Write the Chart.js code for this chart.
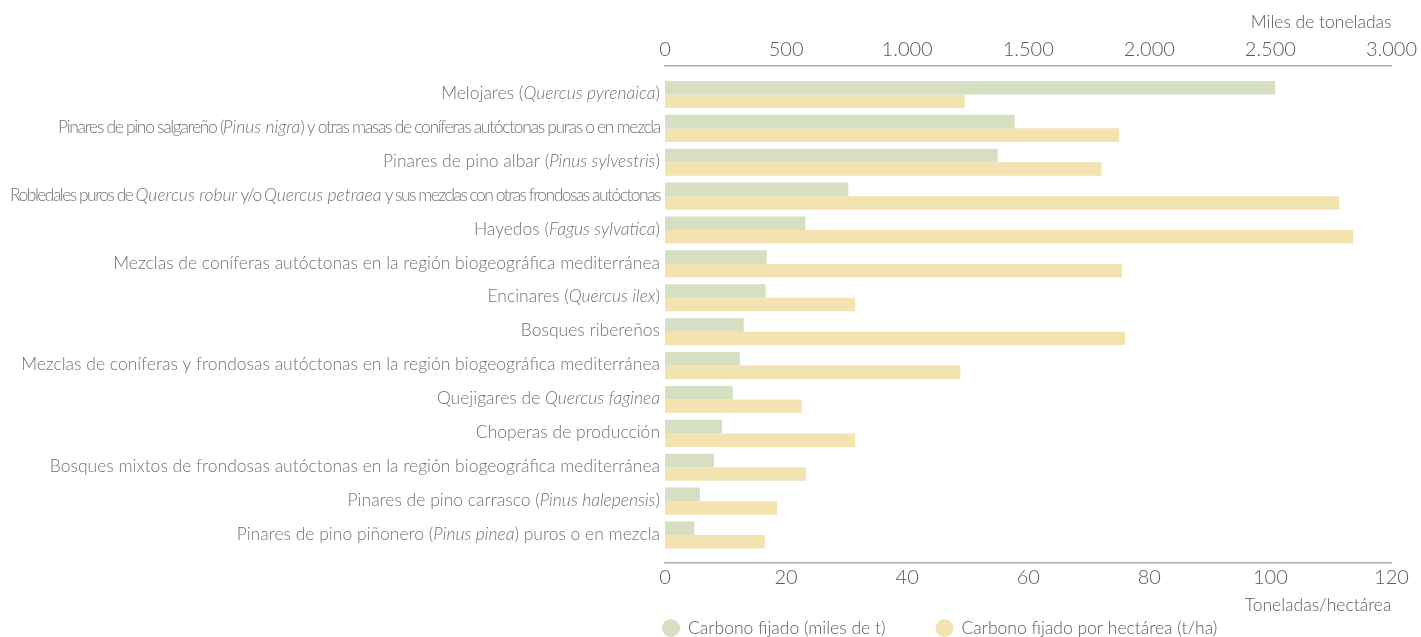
<!DOCTYPE html>
<html lang="es">
<head>
<meta charset="utf-8">
<title>Carbono fijado por tipo de bosque</title>
<script src="https://cdn.jsdelivr.net/npm/chart.js@4"></script>
<style>
  html, body { margin: 0; padding: 0; background: #ffffff; }
  #wrap { width: 1421px; height: 637px; position: relative; }
</style>
</head>
<body>
<div id="wrap"><canvas id="chart" width="1421" height="637"></canvas></div>
<script>
// Forest types; text between asterisks is the scientific name, set in italics.
const categories = [
  'Melojares (*Quercus pyrenaica*)',
  'Pinares de pino salgareño (*Pinus nigra*) y otras masas de coníferas autóctonas puras o en mezcla',
  'Pinares de pino albar (*Pinus sylvestris*)',
  'Robledales puros de *Quercus robur* y/o *Quercus petraea* y sus mezclas con otras frondosas autóctonas',
  'Hayedos (*Fagus sylvatica*)',
  'Mezclas de coníferas autóctonas en la región biogeográfica mediterránea',
  'Encinares (*Quercus ilex*)',
  'Bosques ribereños',
  'Mezclas de coníferas y frondosas autóctonas en la región biogeográfica mediterránea',
  'Quejigares de *Quercus faginea*',
  'Choperas de producción',
  'Bosques mixtos de frondosas autóctonas en la región biogeográfica mediterránea',
  'Pinares de pino carrasco (*Pinus halepensis*)',
  'Pinares de pino piñonero (*Pinus pinea*) puros o en mezcla'
];

// Carbon stored, thousands of tonnes (top axis)
const carbonoMilesT = [2520, 1444, 1374, 757, 580, 420, 416, 325, 309, 280, 235, 202, 144, 121];
// Carbon stored per hectare, t/ha (bottom axis)
const carbonoPorHa = [49.5, 75.0, 72.1, 111.4, 113.7, 75.5, 31.4, 76.0, 48.8, 22.6, 31.4, 23.3, 18.5, 16.5];

const ticksMilesT = [0, 500, 1000, 1500, 2000, 2500, 3000];
const ticksPorHa = [0, 20, 40, 60, 80, 100, 120];

const seriesNames = ['Carbono fijado (miles de t)', 'Carbono fijado por hectárea (t/ha)'];
const axisTitles = ['Miles de toneladas', 'Toneladas/hectárea'];

const COLORS = { green: '#d6dfc1', yellow: '#f3e3b1', text: '#727272', tick: '#5a5a5a', axis: '#ababab' };
const FONT = 'Lato';

// Spanish-style thousands separator: 1.000, 2.500 ...
const fmt = v => String(v).replace(/\B(?=(\d{3})+(?!\d))/g, '.');

// Category names drawn to the left of the plot, with italic scientific names.
// Over-long names are tightened (roman text only) to a given width.
const categoryLabels = {
  id: 'categoryLabels',
  afterDraw(chart, args, opts) {
    const { ctx, chartArea, scales } = chart;
    const yScale = scales.y;
    ctx.save();
    ctx.textBaseline = 'middle';
    ctx.textAlign = 'left';
    ctx.fillStyle = opts.color;
    const fontFor = italic => (italic ? 'italic ' : '') + opts.weight + ' ' + opts.size + 'px ' + FONT;
    const hasSpacing = 'letterSpacing' in ctx;
    categories.forEach((label, i) => {
      const parts = label.split('*');
      if (hasSpacing) ctx.letterSpacing = '0px';
      let natural = 0, romanChars = 0;
      parts.forEach((p, k) => {
        ctx.font = fontFor(k % 2 === 1);
        natural += ctx.measureText(p).width;
        if (k % 2 === 0) romanChars += p.length;
      });
      const target = opts.fitWidth[i];
      const condense = target && natural > target;
      let spacing = 0, scaleX = 1;
      if (condense) {
        if (hasSpacing) spacing = (target - natural) / romanChars;
        else scaleX = target / natural;
      }
      const total = condense ? target : natural;
      const y = yScale.getPixelForValue(i) + opts.dy;
      const x = chartArea.left - opts.gap - total;
      ctx.save();
      ctx.translate(x, y);
      ctx.scale(scaleX, 1);
      let cx = 0;
      parts.forEach((p, k) => {
        if (!p) return;
        const italic = k % 2 === 1;
        ctx.font = fontFor(italic);
        if (hasSpacing) ctx.letterSpacing = (italic ? 0 : spacing) + 'px';
        ctx.fillText(p, cx, 0);
        cx += ctx.measureText(p).width;
      });
      ctx.restore();
    });
    ctx.restore();
  }
};

// Legend row under the bottom axis, with round markers.
const roundLegend = {
  id: 'roundLegend',
  afterDraw(chart, args, opts) {
    const { ctx, chartArea, scales } = chart;
    const y = scales.x.bottom + opts.offsetY;
    ctx.save();
    ctx.font = opts.weight + ' ' + opts.size + 'px ' + FONT;
    ctx.textBaseline = 'middle';
    ctx.textAlign = 'left';
    let x = chartArea.left + opts.startX;
    chart.data.datasets.forEach(ds => {
      ctx.fillStyle = ds.backgroundColor;
      ctx.beginPath();
      ctx.arc(x, y, opts.radius, 0, Math.PI * 2);
      ctx.fill();
      ctx.fillStyle = opts.color;
      const tx = x + opts.textGap;
      ctx.fillText(ds.label, tx, y);
      x = tx + ctx.measureText(ds.label).width + opts.itemGap;
    });
    ctx.restore();
  }
};

Chart.defaults.font.family = FONT;
Chart.defaults.font.weight = 300;
Chart.defaults.color = COLORS.tick;

new Chart(document.getElementById('chart'), {
  type: 'bar',
  data: {
    labels: categories.map(c => c.replace(/\*/g, '')),
    datasets: [
      {
        label: seriesNames[0],
        data: carbonoMilesT.map((v, i) => ({ x: v, y: i })),
        xAxisID: 'x2',
        backgroundColor: COLORS.green,
        borderWidth: 0
      },
      {
        label: seriesNames[1],
        data: carbonoPorHa.map((v, i) => ({ x: v, y: i })),
        xAxisID: 'x',
        backgroundColor: COLORS.yellow,
        borderWidth: 0
      }
    ]
  },
  options: {
    indexAxis: 'y',
    responsive: false,
    animation: false,
    maintainAspectRatio: false,
    categoryPercentage: 0.8,
    barPercentage: 1.0,
    layout: { padding: { top: 11.5, right: 27, bottom: 21.5, left: 0 } },
    scales: {
      y: {
        type: 'linear',
        reverse: true,
        offset: false,
        bounds: 'data',
        min: -0.84,
        max: categories.length - 1 + 0.81,
        afterBuildTicks: s => { s.ticks = categories.map((_, i) => ({ value: i })); },
        afterFit: s => { s.width = 665; },
        ticks: { display: false },
        grid: { display: false, offset: false },
        border: { display: false }
      },
      x2: {
        type: 'linear',
        position: 'top',
        bounds: 'data',
        min: ticksMilesT[0],
        max: ticksMilesT[ticksMilesT.length - 1],
        afterBuildTicks: s => { s.ticks = ticksMilesT.map(v => ({ value: v })); },
        ticks: {
          padding: 4,
          color: COLORS.tick,
          font: { size: 20, weight: 300 },
          callback: v => fmt(v),
          maxRotation: 0
        },
        grid: { display: false, drawTicks: false },
        border: { display: true, color: COLORS.axis, width: 1.5 },
        title: {
          display: true,
          text: axisTitles[0],
          align: 'end',
          color: COLORS.tick,
          font: { size: 17.5, weight: 300 },
          padding: { top: 0, bottom: 1.5 }
        }
      },
      x: {
        type: 'linear',
        position: 'bottom',
        bounds: 'data',
        min: ticksPorHa[0],
        max: ticksPorHa[ticksPorHa.length - 1],
        afterBuildTicks: s => { s.ticks = ticksPorHa.map(v => ({ value: v })); },
        ticks: {
          padding: 3.5,
          color: COLORS.tick,
          font: { size: 20, weight: 300 },
          callback: v => fmt(v),
          maxRotation: 0
        },
        grid: { display: false, drawTicks: false },
        border: { display: true, color: COLORS.axis, width: 1.5 },
        title: {
          display: true,
          text: axisTitles[1],
          align: 'end',
          color: COLORS.tick,
          font: { size: 17.5, weight: 300 },
          padding: { top: 1, bottom: 0 }
        }
      }
    },
    plugins: {
      legend: { display: false },
      tooltip: { enabled: false },
      categoryLabels: {
        color: COLORS.text,
        size: 17.5,
        weight: 300,
        gap: 5,
        dy: -1,
        fitWidth: { 1: 602, 3: 650 }
      },
      roundLegend: {
        color: COLORS.tick,
        size: 17.5,
        weight: 300,
        radius: 9,
        startX: 6,
        textGap: 17,
        itemGap: 59,
        offsetY: 12.5
      }
    }
  },
  plugins: [categoryLabels, roundLegend]
});
</script>
</body>
</html>
